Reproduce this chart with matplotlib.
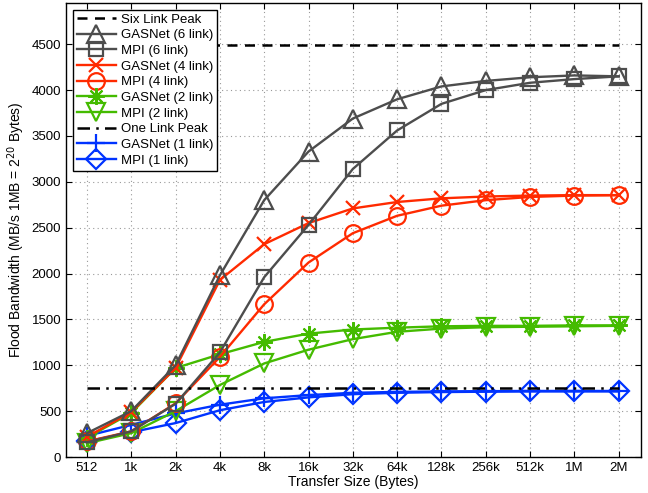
import matplotlib
matplotlib.use("Agg")
import matplotlib.pyplot as plt
import numpy as np

sizes = ["512", "1k", "2k", "4k", "8k", "16k", "32k", "64k", "128k", "256k", "512k", "1M", "2M"]
yticks = [0, 500, 1000, 1500, 2000, 2500, 3000, 3500, 4000, 4500]

six_link_peak = 4490
one_link_peak = 755

gasnet6 = [260, 500, 1000, 1980, 2800, 3330, 3690, 3900, 4040, 4100, 4140, 4160, 4150]
mpi6    = [160, 280, 580, 1140, 1960, 2530, 3140, 3560, 3850, 4000, 4080, 4120, 4150]
gasnet4 = [220, 490, 970, 1930, 2320, 2550, 2710, 2780, 2820, 2840, 2850, 2855, 2855]
mpi4    = [170, 280, 585, 1090, 1665, 2120, 2440, 2630, 2740, 2800, 2835, 2850, 2855]
gasnet2 = [210, 480, 970, 1120, 1255, 1345, 1390, 1410, 1425, 1430, 1430, 1435, 1435]
mpi2    = [150, 260, 500, 785, 1020, 1170, 1285, 1365, 1400, 1415, 1420, 1425, 1430]
gasnet1 = [230, 350, 475, 570, 640, 675, 700, 710, 715, 718, 720, 720, 720]
mpi1    = [170, 270, 370, 510, 600, 650, 685, 700, 708, 712, 715, 715, 715]

plt.rcParams['font.family'] = ['Liberation Sans', 'DejaVu Sans']
plt.rcParams['font.size'] = 9.5

fig = plt.figure(figsize=(6.48, 4.93), dpi=100)
ax = fig.add_axes([0.102, 0.073, 0.887, 0.921])

x = np.arange(len(sizes))
grey = "#4d4d4d"
red = "#ff2a00"
green = "#44bb00"
blue = "#0033ff"
lw = 1.7
mew = 1.6

h_mpi1, = ax.plot(x, mpi1, color=blue, marker='D', label='MPI (1 link)', lw=lw, mew=mew, ms=10.5, mfc='none')
h_g1, = ax.plot(x, gasnet1, color=blue, marker='+', label='GASNet (1 link)', lw=lw, mew=mew, ms=13)
h_mpi2, = ax.plot(x, mpi2, color=green, marker='v', label='MPI (2 link)', lw=lw, mew=mew, ms=13, mfc='none')
h_g2, = ax.plot(x, gasnet2, color=green, marker=(8, 2, 0), label='GASNet (2 link)', lw=lw, mew=1.5, ms=12)
h_mpi4, = ax.plot(x, mpi4, color=red, marker='o', label='MPI (4 link)', lw=lw, mew=mew, ms=12, mfc='none')
h_g4, = ax.plot(x, gasnet4, color=red, marker='x', label='GASNet (4 link)', lw=lw, mew=mew, ms=10.5)
h_mpi6, = ax.plot(x, mpi6, color=grey, marker='s', label='MPI (6 link)', lw=lw, mew=mew, ms=10.5, mfc='none')
h_g6, = ax.plot(x, gasnet6, color=grey, marker='^', label='GASNet (6 link)', lw=lw, mew=mew, ms=13, mfc='none')

h_six, = ax.plot([x[0], x[-1]], [six_link_peak, six_link_peak], color='black', ls=(0, (4, 3)), lw=1.8,
                 label='Six Link Peak')
h_one, = ax.plot([x[0], x[-1]], [one_link_peak, one_link_peak], color='black', ls=(0, (5, 2.5, 1, 2.5)), lw=1.8,
                 label='One Link Peak')

ax.set_xlim(-0.47, 12.5)
ax.set_ylim(0, 4950)
ax.set_xticks(x)
ax.set_xticklabels(sizes)
ax.set_yticks(yticks)
ax.tick_params(direction='in', top=True, right=True, length=4, width=0.8, labelsize=9.5)
ax.grid(True, ls=(0, (1, 3)), color='#999999', lw=0.8)
for s in ax.spines.values():
    s.set_linewidth(1.0)

ax.set_xlabel('Transfer Size (Bytes)', labelpad=1, fontsize=10)
ax.set_ylabel('Flood Bandwidth (MB/s 1MB = 2$^{20}$ Bytes)', labelpad=3, fontsize=10)

handles = [h_six, h_g6, h_mpi6, h_g4, h_mpi4, h_g2, h_mpi2, h_one, h_g1, h_mpi1]
leg = ax.legend(handles=handles, loc='upper left', bbox_to_anchor=(0.0, 1.0), fancybox=False,
                edgecolor='black', framealpha=1, handlelength=3.0, labelspacing=0.26,
                borderpad=0.3, handletextpad=0.35, borderaxespad=0.5, fontsize=9.5)
leg.get_frame().set_linewidth(1.0)

fig.savefig('out.png', dpi=100)
